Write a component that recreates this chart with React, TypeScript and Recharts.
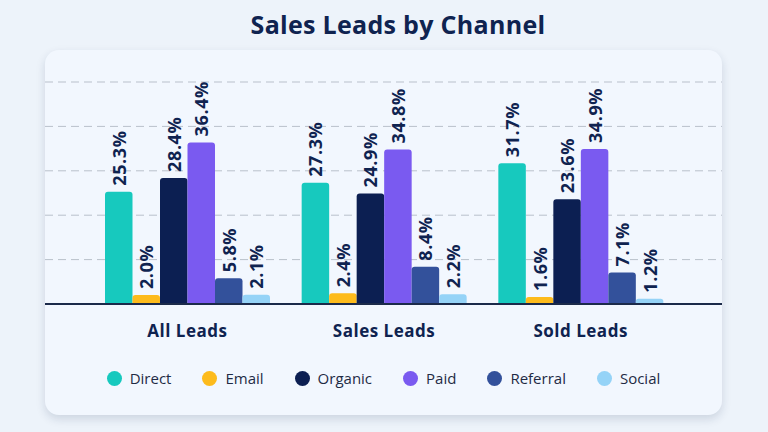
import { Bar, BarChart, CartesianGrid, LabelList, Legend, XAxis, YAxis } from "recharts";

const categories = ["All Leads", "Sales Leads", "Sold Leads"];
const channels = ["Direct", "Email", "Organic", "Paid", "Referral", "Social"];
const direct = [25.3, 27.3, 31.7];
const email = [2.0, 2.4, 1.6];
const organic = [28.4, 24.9, 23.6];
const paid = [36.4, 34.8, 34.9];
const referral = [5.8, 8.4, 7.1];
const social = [2.1, 2.2, 1.2];
const yTicks = [0, 10, 20, 30, 40, 50];

const seriesValues = [direct, email, organic, paid, referral, social];
const colors = ["#17c9be", "#fdbb1c", "#0c1f52", "#7a5af0", "#33519b", "#95d3f7"];

const chartData = categories.map((name, i) => {
  const row: Record<string, string | number> = { name };
  channels.forEach((c, j) => {
    row[c] = seriesValues[j][i];
  });
  return row;
});

const NAVY = "#0f2350";
const FONT = "'Open Sans', sans-serif";

function RotatedLabel(props: any) {
  const { x, y, width, value } = props;
  const cx = Number(x) + Number(width) / 2;
  const cy = Number(y) - 6;
  return (
    <text
      x={cx}
      y={cy}
      transform={`rotate(-90 ${cx} ${cy})`}
      textAnchor="start"
      dominantBaseline="central"
      fill={NAVY}
      fontSize={18}
      fontWeight={700}
      letterSpacing={0.6}
      fontFamily={FONT}
    >
      {`${Number(value).toFixed(1)}%`}
    </text>
  );
}

function LegendContent() {
  return (
    <div
      style={{
        display: "flex",
        justifyContent: "center",
        gap: 31,
        paddingTop: 24,
        fontFamily: FONT,
        fontSize: 15,
        color: "#1f2b45",
      }}
    >
      {channels.map((c, i) => (
        <div key={c} style={{ display: "flex", alignItems: "center", gap: 8 }}>
          <span
            style={{
              width: 15,
              height: 15,
              borderRadius: "50%",
              background: colors[i],
              display: "inline-block",
            }}
          />
          <span>{c}</span>
        </div>
      ))}
    </div>
  );
}

export default function App() {
  return (
    <div
      style={{
        position: "absolute",
        left: 0,
        top: 0,
        width: 768,
        height: 432,
        background: "#edf3fa",
        fontFamily: FONT,
      }}
    >
      <style>{"body{margin:0}"}</style>
      <div
        style={{
          position: "absolute",
          top: 7,
          left: 14,
          width: 768,
          textAlign: "center",
          fontSize: 25,
          fontWeight: 700,
          letterSpacing: 0.3,
          color: NAVY,
        }}
      >
        Sales Leads by Channel
      </div>
      <div
        style={{
          position: "absolute",
          left: 45,
          top: 50,
          width: 677,
          height: 365,
          borderRadius: 14,
          background: "#f2f7fe",
          boxShadow: "0 4px 10px rgba(20, 40, 80, 0.15)",
          overflow: "hidden",
        }}
      >
        <BarChart
          width={677}
          height={365}
          data={chartData}
          margin={{ top: 32, right: 0, left: 0, bottom: 0 }}
          barGap={0}
          barSize={27.5}
        >
          <CartesianGrid vertical={false} stroke="#b9c0cb" strokeDasharray="8 5" />
          <XAxis
            dataKey="name"
            height={40}
            padding={{ left: 44, right: 43 }}
            axisLine={{ stroke: "#1b2a4a", strokeWidth: 2 }}
            tickLine={false}
            tickSize={0}
            tickMargin={21}
            tick={{ fill: NAVY, fontSize: 17, fontWeight: 700, fontFamily: FONT, letterSpacing: 0.5 }}
          />
          <YAxis hide domain={[0, 50]} ticks={yTicks} />
          <Legend verticalAlign="bottom" height={71} content={() => <LegendContent />} />
          {channels.map((c, i) => (
            <Bar
              key={c}
              dataKey={c}
              fill={colors[i]}
              radius={[3, 3, 0, 0]}
              isAnimationActive={false}
            >
              <LabelList dataKey={c} content={<RotatedLabel />} />
            </Bar>
          ))}
        </BarChart>
      </div>
    </div>
  );
}
